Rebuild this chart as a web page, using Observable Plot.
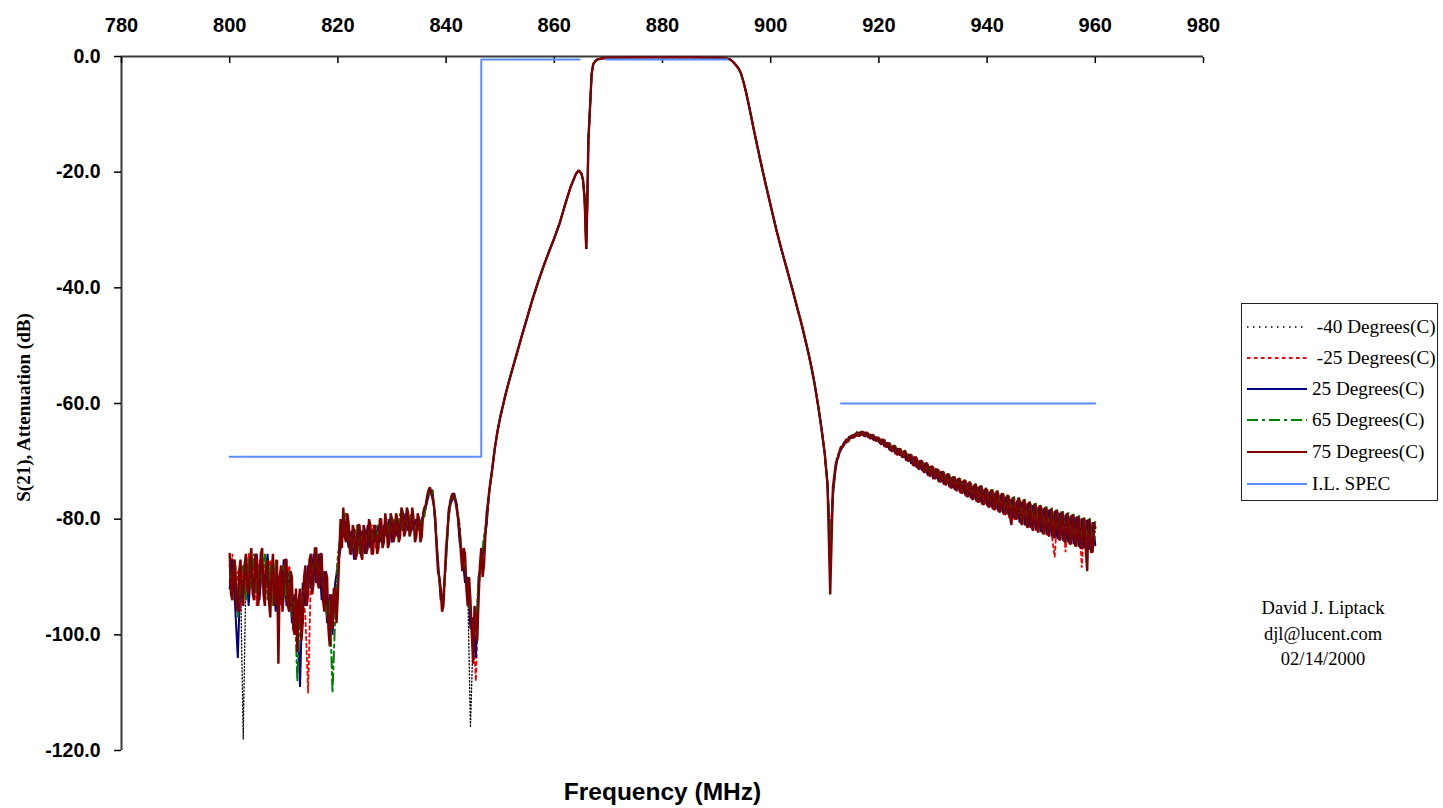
<!DOCTYPE html>
<html><head><meta charset="utf-8">
<script src="https://cdn.jsdelivr.net/npm/d3@7"></script>
<script src="https://cdn.jsdelivr.net/npm/@observablehq/plot@0.6"></script>
<style>
html,body{margin:0;padding:0;background:#fff;}
#wrap{position:relative;width:1443px;height:808px;overflow:hidden;}
#wrap svg.plot{position:absolute;left:0;top:0;}
#legend{position:absolute;left:1241px;top:303px;width:197px;height:198px;border:1.5px solid #222;box-sizing:border-box;font-family:"Liberation Serif","Times New Roman",serif;font-size:19.2px;color:#000;background:#fff;}
.row{position:absolute;left:5px;height:22px;display:flex;align-items:center;white-space:pre;}
.row span{margin-left:5px;}
#note{position:absolute;left:1223px;top:596px;width:200px;text-align:center;font-family:"Liberation Serif","Times New Roman",serif;font-size:18.5px;line-height:25.5px;color:#000;}
</style></head><body><div id="wrap"></div><script>
// ---------- data ----------
const xTicks = [780, 800, 820, 840, 860, 880, 900, 920, 940, 960, 980];
const yTicks = [0, -20, -40, -60, -80, -100, -120];
const seriesNames = ["-40 Degrees(C)", "-25 Degrees(C)", "25 Degrees(C)", "65 Degrees(C)", "75 Degrees(C)"];
const specName = "I.L. SPEC";

// low stop band sweep 800 – 847.5 MHz (0.5 MHz steps; 75°C trace at 0.25 MHz)
const lowFreq = d3.range(800, 848, 0.5);
const lowFreqFine = d3.range(800, 848, 0.25);
// filter skirts and pass band (shared by every temperature)
const skirtFreq = [848, 848.5, 849, 849.5, 850, 850.5, 851, 851.5, 852, 853, 854, 855, 856, 857, 858, 859, 860, 861, 862, 863, 864, 864.5, 865, 865.3, 865.6, 865.9, 866.1, 866.3, 866.6, 866.9, 867.2, 867.6, 868, 869, 870, 875, 880, 885, 890, 891, 891.5, 892, 892.5, 893, 893.5, 894, 894.5, 895, 895.5, 896, 896.5, 897, 897.5, 898, 898.5, 899, 899.5, 900, 900.5, 901, 901.5, 902, 902.5, 903, 903.5, 904, 904.5, 905, 905.5, 906, 906.5, 907, 907.5, 908, 908.5, 909, 909.5, 910, 910.5];
const skirtDb = [-75, -71.5, -67.8, -64.8, -62.4, -60.4, -58.4, -56.6, -54.9, -51.6, -48.3, -45.1, -41.9, -39, -36.3, -33.8, -31.4, -28.8, -25.6, -22.6, -20.3, -19.7, -20.2, -21.3, -24.5, -33.3, -25.5, -14.5, -8.8, -3.0, -1.3, -0.8, -0.5, -0.3, -0.2, -0.15, -0.15, -0.15, -0.2, -0.25, -0.3, -0.4, -0.5, -0.9, -1.4, -2.0, -2.9, -4.5, -6.4, -8.6, -10.9, -13.2, -15.4, -17.6, -19.7, -21.8, -23.8, -25.8, -27.8, -29.8, -31.6, -33.4, -35.1, -36.8, -38.5, -40.2, -42, -43.8, -45.5, -47.4, -49.4, -51.4, -53.6, -56, -58.8, -61.8, -65.1, -68.8, -74];
// high stop band sweep 911 – 960 MHz
const highFreq = d3.range(911, 960.25, 0.5);
const highFreqFine = d3.range(911, 960.1, 0.25);

const low_m40 = [
 -89, -91, -88, -93, -90, -118, -89, -91, -87, -93,
 -89, -90, -87, -92, -89, -94, -88, -91, -95, -89,
 -91, -89, -93, -92, -97, -96, -95, -94, -90, -91,
 -88, -89, -87, -89, -91, -91, -95, -95, -97, -94,
 -89, -83, -79, -81, -82, -84, -83, -84, -83, -84,
 -83, -83, -84, -82, -83, -83, -82, -83, -81, -82,
 -82, -81, -81, -81, -80, -80, -80, -80, -81, -81,
 -81, -80, -79, -76.5, -75, -75.5, -80, -88, -93, -94,
 -86, -79, -76.5, -76, -78, -83, -87, -89, -92, -116,
 -100, -99, -92, -87, -85, -80];
const low_m25 = [
 -91, -86, -93, -89, -96, -88, -92, -86, -91, -88,
 -95, -87, -90, -88, -92, -87, -93, -88, -91, -95,
 -87, -92, -88, -93, -97, -95, -99, -92, -97, -110,
 -90, -87, -91, -87, -92, -90, -96, -95, -98, -93,
 -86, -84, -80, -82, -84, -83, -86, -84, -82, -85,
 -84, -82, -85, -81, -85, -82, -83, -81, -83, -81,
 -83, -81, -82, -80, -82, -81, -80, -81, -81, -80,
 -82, -81, -79, -76.5, -74.5, -76, -79.5, -88.5, -92.5, -94.5,
 -85.5, -78.5, -76.5, -76, -78, -83, -86, -90, -91, -98,
 -99, -108, -93, -86, -85, -80];
const low_25 = [
 -92, -87, -95, -104, -89, -93, -87, -95, -88, -92,
 -86, -94, -88, -91, -86, -93, -89, -96, -90, -94,
 -87, -95, -89, -98, -93, -96, -109, -91, -95, -88,
 -92, -86, -91, -86, -94, -89, -98, -93, -100, -91,
 -88, -85, -79, -82, -85, -82, -87, -82, -85, -82,
 -86, -81, -85, -82, -84, -81, -84, -81, -83, -80,
 -84, -80, -83, -80, -82, -79, -82, -80, -82, -80,
 -82, -80, -79, -77, -75, -75, -81, -87, -94, -93,
 -87, -78, -77, -75.5, -77.5, -84, -86, -91, -90, -99,
 -97, -104, -90, -88, -84, -81];
const low_65 = [
 -88, -92, -87, -97, -90, -88, -94, -87, -92, -86,
 -93, -88, -91, -86, -94, -88, -95, -87, -96, -89,
 -88, -94, -89, -97, -94, -108, -95, -94, -89, -92,
 -87, -90, -86, -90, -88, -93, -97, -94, -110, -97,
 -87, -82, -81, -79, -84, -83, -85, -81, -86, -83,
 -82, -84, -81, -84, -81, -84, -82, -83, -80, -83,
 -81, -80, -82, -79, -82, -80, -81, -79, -82, -81,
 -82, -80, -79.5, -76, -75.5, -75, -80.5, -88, -93.5, -94,
 -86.5, -79.5, -76.5, -76, -78, -81, -88, -88, -93, -96,
 -101, -98, -91, -87, -83, -80];
const low_75 = [
 -86,-93, -94,-87, -88,-95, -96,-89, -87,-93, -95,-88, -86,-92, -93,-87, -85,-93, -94,-86,
 -87,-95, -92,-86, -85,-93, -95,-88, -87,-94, -97,-89, -86,-95, -93,-87, -105,-90, -88,-96,
 -93,-87, -87,-95, -96,-89, -90,-99, -100,-92, -103,-94, -92,-101, -98,-90, -88,-95, -93,-87,
 -86,-93, -91,-85, -85,-91, -92,-86, -86,-94, -96,-89, -90,-99, -102,-93, -99,-92, -92,-98,
 -93,-86, -80,-85, -78,-83, -84,-79, -81,-86, -86,-81, -82,-87, -86,-81, -81,-86, -87,-81,
 -82,-86, -85,-80, -81,-86, -86,-81, -82,-86, -85,-80, -80,-85, -84,-79, -81,-85, -84,-79,
 -80,-84, -83,-79, -80,-84, -83,-78, -79,-83, -82,-78, -79,-83, -82,-78, -80,-84, -83,-79,
 -80,-84, -83,-79, -78,-77.5, -76,-75, -74.5,-75.5, -76.5,-77.5, -80,-85, -89,-90, -92,-96, -95,-90,
 -85,-82, -79,-77, -76,-75.5, -76.5,-77, -78.5,-80, -82,-86, -89,-85, -86,-92, -95,-90, -94,-100,
 -105,-95, -97,-101, -94,-88, -85,-90, -88,-83, -79,-77];

const high_m40 = [
 -83, -75, -71, -69, -67.8, -67, -66.4, -66.1, -65.7, -65.6,
 -65.2, -65.3, -65.1, -65.4, -65.4, -65.8, -65.8, -66.2, -66.2, -66.7,
 -66.8, -67.3, -67.4, -67.9, -67.9, -68.4, -68.4, -68.9, -69.0, -69.5,
 -69.5, -70.2, -70.1, -70.8, -70.7, -71.4, -71.2, -71.9, -71.8, -72.4,
 -72.3, -72.9, -72.8, -73.4, -73.3, -73.9, -73.7, -74.3, -74.1, -74.7,
 -74.5, -75.1, -74.9, -75.5, -75.3, -75.9, -75.7, -76.3, -76.0, -76.8,
 -76.3, -77.1, -76.7, -77.5, -77.1, -77.9, -77.4, -78.4, -77.7, -78.9,
 -78.0, -79.4, -78.3, -79.9, -78.7, -80.3, -79.0, -80.8, -79.3, -81.1,
 -79.6, -81.5, -79.8, -81.9, -80.1, -82.2, -80.4, -82.6, -80.6, -83.0,
 -80.8, -83.4, -81.0, -83.7, -81.3, -84.0, -81.5, -84.3, -82.0];
const high_m25 = [
 -84, -75, -71.2, -68.7, -68.1, -66.7, -66.8, -65.7, -66.1, -65.2,
 -65.7, -64.9, -65.6, -64.9, -65.9, -65.3, -66.4, -65.7, -66.8, -66.1,
 -67.5, -66.7, -68.1, -67.3, -68.7, -67.7, -69.2, -68.2, -69.9, -68.7,
 -70.6, -69.2, -71.3, -69.8, -71.8, -70.3, -72.5, -70.8, -73.1, -71.2,
 -73.6, -71.7, -74.1, -72.2, -74.5, -72.7, -75.0, -73.0, -75.5, -73.4,
 -76.0, -73.7, -76.5, -74.1, -77.0, -74.4, -77.5, -74.8, -77.9, -75.2,
 -78.3, -75.4, -78.8, -75.7, -79.2, -76.1, -79.7, -76.4, -80.2, -76.7,
 -80.6, -76.9, -81.1, -77.2, -81.5, -77.5, -82.0, -77.8, -82.4, -78.1,
 -82.8, -78.3, -83.1, -86.6, -78.7, -83.8, -79.0, -85.7, -79.3, -84.4,
 -79.6, -84.8, -79.8, -88.4, -80.1, -85.4, -80.4, -85.8, -82.5];
const high_25 = [
 -86, -76, -71.3, -68.8, -68.0, -66.8, -66.7, -65.8, -66.0, -65.3,
 -65.5, -65.0, -65.5, -65.0, -65.8, -65.4, -66.3, -65.8, -66.7, -66.2,
 -67.3, -66.8, -68.0, -67.4, -68.5, -67.8, -69.0, -68.3, -69.7, -68.8,
 -70.4, -69.3, -71.0, -69.9, -71.6, -70.4, -72.3, -70.9, -72.9, -71.3,
 -73.4, -71.8, -73.9, -72.3, -74.3, -72.8, -74.8, -73.1, -75.2, -73.5,
 -75.8, -73.8, -76.3, -74.2, -76.8, -74.5, -77.2, -74.9, -77.6, -75.3,
 -78.0, -75.5, -78.5, -75.8, -78.9, -76.2, -79.3, -76.5, -79.8, -76.8,
 -80.5, -77.0, -81.0, -77.3, -81.4, -77.6, -81.8, -77.9, -82.2, -78.2,
 -82.6, -78.4, -83.0, -78.6, -83.4, -78.9, -83.7, -79.2, -84.0, -79.4,
 -84.3, -79.6, -84.8, -79.9, -85.0, -80.1, -85.3, -80.5, -84.5];
const high_65 = [
 -85, -75.5, -70.8, -69.0, -67.4, -67.3, -66.2, -66.2, -65.4, -65.7,
 -64.9, -65.5, -64.8, -65.6, -65.0, -66.0, -65.4, -66.4, -65.8, -66.9,
 -66.2, -67.5, -66.8, -68.1, -67.2, -68.7, -67.8, -69.2, -68.3, -69.9,
 -68.8, -70.5, -69.4, -71.2, -69.9, -71.8, -70.4, -72.3, -70.9, -72.8,
 -71.4, -73.4, -71.8, -73.9, -72.2, -74.3, -72.6, -74.8, -72.9, -75.2,
 -73.2, -75.7, -73.6, -76.1, -73.9, -76.6, -74.2, -77.0, -74.6, -77.5,
 -74.8, -77.9, -75.1, -78.3, -75.5, -78.8, -75.8, -79.2, -76.1, -79.7,
 -76.3, -80.2, -76.6, -80.6, -76.9, -81.1, -77.2, -81.5, -77.5, -81.9,
 -77.8, -82.3, -78.0, -82.7, -78.3, -83.0, -78.6, -83.4, -78.8, -83.8,
 -79.1, -84.2, -79.3, -84.5, -79.6, -84.9, -79.8, -85.2, -80.5];
const high_75 = [
 -93,-84, -74.5,-72.5, -70.6,-69.6, -69.3,-68.2, -67.5,-67.6, -67.2,-66.6, -66.2,-66.6, -66.3,-65.7, -65.5,-65.9, -65.8,-65.2,
 -65.0,-65.6, -65.6,-64.9, -64.9,-65.6, -65.7,-65.0, -65.2,-65.9, -66.1,-65.4, -65.6,-66.3, -66.5,-65.8, -66.0,-66.9, -67.1,-66.2,
 -66.5,-67.4, -67.6,-66.8, -67.1,-68.1, -68.3,-67.2, -67.6,-68.7, -68.9,-67.8, -68.0,-69.2, -69.3,-68.1, -68.6,-69.8, -70.0,-68.8,
 -69.0,-70.5, -70.8,-69.2, -69.6,-71.2, -71.4,-69.8, -70.1,-71.8, -71.9,-70.2, -70.6,-72.4, -72.6,-70.8, -71.1,-72.9, -73.0,-71.3,
 -71.7,-73.4, -73.6,-71.7, -72.2,-74.0, -74.0,-72.1, -72.7,-74.5, -74.6,-72.6, -73.0,-75.0, -75.0,-72.9, -73.4,-75.5, -75.4,-73.2,
 -73.6,-76.1, -76.0,-73.5, -74.0,-76.6, -76.5,-73.9, -74.3,-77.0, -77.0,-74.2, -74.7,-77.5, -77.3,-74.6, -75.2,-77.9, -77.8,-74.9,
 -75.4,-78.4, -78.2,-75.1, -75.6,-78.8, -78.6,-75.5, -76.0,-79.2, -79.0,-75.8, -76.4,-79.6, -81.0,-76.2, -77.0,-80.0, -79.9,-76.3,
 -76.8,-80.6, -81.0,-76.6, -77.2,-81.0, -81.5,-77.0, -77.6,-81.4, -82.0,-77.3, -78.0,-81.8, -82.3,-77.6, -78.2,-82.3, -82.6,-77.9,
 -78.6,-82.6, -83.0,-78.2, -78.8,-83.0, -83.3,-78.4, -79.0,-83.4, -83.6,-78.7, -79.4,-83.8, -84.0,-79.0, -79.5,-84.2, -84.3,-79.2,
 -79.8,-84.6, -84.6,-79.5, -80.0,-85.0, -85.0,-79.8, -80.4,-85.4, -89.0,-80.0, -80.7,-85.8, -85.5,-80.5, -81.5];

// insertion-loss specification mask (gaps between its three pieces)
const specFreq = [800, 846.5, 846.5, 864.7, NaN, 869.5, 892, NaN, 913, 960];
const specDb = [-69.2, -69.2, -0.5, -0.5, NaN, -0.5, -0.5, NaN, -60, -60];

// ---------- build ----------
function build(lf, low, hf, high) {
  return [
    ...lf.map((f, i) => ({f, db: low[i]})),
    ...skirtFreq.map((f, i) => ({f, db: skirtDb[i]})),
    ...hf.map((f, i) => ({f, db: high[i]}))
  ];
}
const series = [
  {name: seriesNames[0], data: build(lowFreq, low_m40, highFreq, high_m40), stroke: "#000000", dash: "1.2,2.2", legendDash: "1.5,4.5", width: 1.3},
  {name: seriesNames[1], data: build(lowFreq, low_m25, highFreq, high_m25), stroke: "#ff0000", dash: "3.5,3.5", width: 1.8},
  {name: seriesNames[2], data: build(lowFreq, low_25, highFreq, high_25), stroke: "#000080", dash: null, width: 2},
  {name: seriesNames[3], data: build(lowFreq, low_65, highFreq, high_65), stroke: "#008000", dash: "11,4,3,4", width: 2},
  {name: seriesNames[4], data: build(lowFreqFine, low_75, highFreqFine, high_75), stroke: "#800000", dash: null, width: 2.4, legendWidth: 2}
];
const spec = {name: specName, data: specFreq.map((f, i) => ({f, db: specDb[i]})), stroke: "#5b8cff", dash: null, width: 2};

const sans = "'Liberation Sans', Arial, Helvetica, sans-serif";
const serif = "'Liberation Serif', 'Times New Roman', serif";

const chart = Plot.plot({
  width: 1443, height: 808,
  marginTop: 56, marginLeft: 121, marginRight: 240, marginBottom: 58,
  x: {domain: [780, 980]},
  y: {domain: [-120, 0]},
  style: {background: "transparent", overflow: "visible"},
  marks: [
    Plot.ruleY([0], {stroke: "#3a3a3a", strokeWidth: 2}),
    Plot.ruleX([780], {stroke: "#3a3a3a", strokeWidth: 2}),
    Plot.axisX(xTicks, {anchor: "top", tickSize: -6, tickPadding: 31, tickFormat: d => String(d),
      fontSize: 20, fontWeight: "bold", fontFamily: sans, fill: "#000", stroke: "#000", strokeWidth: 1.5, label: null}),
    Plot.axisY(yTicks, {anchor: "left", tickSize: 7, tickPadding: 14, tickFormat: d => d.toFixed(1),
      fontSize: 19.5, fontWeight: "bold", fontFamily: sans, fill: "#000", stroke: "#000", strokeWidth: 1.5, label: null}),
    ...series.map(s => Plot.line(s.data, {x: "f", y: "db", stroke: s.stroke, strokeWidth: s.width,
      strokeDasharray: s.dash, strokeLinejoin: "miter", curve: "linear"})),
    Plot.line(spec.data, {x: "f", y: "db", stroke: spec.stroke, strokeWidth: spec.width}),
    Plot.text(["Frequency (MHz)"], {frameAnchor: "bottom", dy: 49, fontSize: 24.5, fontWeight: "bold", fontFamily: sans, fill: "#000"}),
    Plot.text(["S(21), Attenuation (dB)"], {frameAnchor: "left", textAnchor: "middle", dx: -98, dy: 4, rotate: -90, fontSize: 19, fontWeight: "bold", fontFamily: serif, fill: "#000"})
  ]
});
const wrap = document.getElementById("wrap");
wrap.appendChild(chart);

// legend
const legend = document.createElement("div");
legend.id = "legend";
const rowCenters = [24, 55.5, 86, 117.5, 149, 181];
[...series, spec].forEach((s, i) => {
  const row = document.createElement("div");
  row.className = "row";
  row.style.top = (rowCenters[i] - 11 - 1.5) + "px";
  const svg = d3.create("svg").attr("width", 60).attr("height", 22);
  svg.append("line").attr("x1", 0).attr("x2", 60).attr("y1", 11).attr("y2", 11)
    .attr("stroke", s.stroke).attr("stroke-width", s.legendWidth || s.width)
    .attr("stroke-dasharray", s.legendDash || s.dash);
  row.appendChild(svg.node());
  const span = document.createElement("span");
  span.textContent = (s.name.startsWith("-") ? "\u00a0" : "") + s.name;
  row.appendChild(span);
  legend.appendChild(row);
});
wrap.appendChild(legend);

const note = document.createElement("div");
note.id = "note";
note.innerHTML = "David J. Liptack<br>djl@lucent.com<br>02/14/2000";
wrap.appendChild(note);
</script></body></html>
